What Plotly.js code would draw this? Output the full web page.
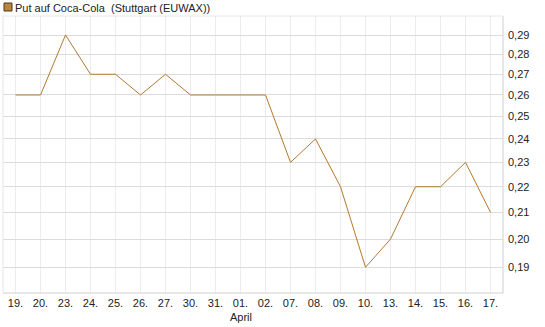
<!DOCTYPE html>
<html>
<head>
<meta charset="utf-8">
<script src="https://cdn.plot.ly/plotly-3.0.1.min.js"></script>
<style>html,body{margin:0;padding:0;background:#fff;}#chart{width:545px;height:327px;}</style>
</head>
<body>
<div id="chart"></div>
<script>
const dateLabels = ["19.","20.","23.","24.","25.","26.","27.","30.","31.","01.","02.","07.","08.","09.","10.","13.","14.","15.","16.","17."];
const prices = [0.26,0.26,0.29,0.27,0.27,0.26,0.27,0.26,0.26,0.26,0.26,0.23,0.24,0.22,0.19,0.20,0.22,0.22,0.23,0.21];
const yTicks = [0.19,0.20,0.21,0.22,0.23,0.24,0.25,0.26,0.27,0.28,0.29];
const monthLabel = "April";
const monthIndex = 9;
const seriesName = "Put auf Coca-Cola\u00a0\u00a0(Stuttgart (EUWAX))";

const xIdx = dateLabels.map((_, i) => i);
const lineColor = "#b27a2f";
const font = {family: "Liberation Sans, Arial, sans-serif", size: 11, color: "#222"};

const trace = {
  x: xIdx, y: prices, type: "scatter", mode: "lines",
  line: {color: lineColor, width: 1}, hoverinfo: "skip", showlegend: false
};

const layout = {
  width: 545, height: 327,
  margin: {l: 3, r: 42, t: 16, b: 34},
  paper_bgcolor: "#fff", plot_bgcolor: "#fff",
  separators: ",.",
  font: font,
  showlegend: false,
  xaxis: {
    range: [-0.5, 19.5], tickvals: xIdx, ticktext: dateLabels,
    showgrid: true, gridcolor: "#ececec", gridwidth: 1,
    zeroline: false, showline: false, ticks: "", ticklabelstandoff: 2,
    tickfont: font, fixedrange: true
  },
  yaxis: {
    type: "log", side: "right",
    range: [-0.74157, -0.52258],
    tickvals: yTicks, tickformat: ".2f",
    showgrid: true, gridcolor: "#dcdcdc", gridwidth: 1,
    zeroline: false, showline: false, ticks: "", ticklabelstandoff: 4,
    tickfont: font, fixedrange: true
  },
  shapes: [
    {type: "line", xref: "paper", yref: "paper", x0: 0, x1: 1, y0: 0, y1: 0, line: {color: "#cfcfcf", width: 1}},
    {type: "line", xref: "paper", yref: "paper", x0: 1, x1: 1, y0: 0, y1: 1, line: {color: "#cfcfcf", width: 1}},
    {type: "line", xref: "paper", yref: "paper", x0: 0, x1: 0, y0: 0, y1: 1, line: {color: "#e4e4e4", width: 1}},
    {type: "line", xref: "paper", yref: "paper", x0: 0, x1: 1, y0: 1, y1: 1, line: {color: "#e8e8e8", width: 1}},
    {type: "rect", xref: "paper", yref: "paper", xsizemode: "pixel", ysizemode: "pixel",
     xanchor: 0, yanchor: 1, x0: 1, x1: 9, y0: 13, y1: 5,
     fillcolor: "#b8863c", line: {color: "#4a3820", width: 1}}
  ],
  annotations: [
    {xref: "paper", yref: "paper", x: 0, y: 1, xshift: 10, yshift: 16, xanchor: "left", yanchor: "top",
     text: seriesName, showarrow: false, font: font},
    {xref: "x", yref: "paper", x: monthIndex, y: 0, yshift: -16, xanchor: "center", yanchor: "top",
     text: monthLabel, showarrow: false, font: font}
  ]
};

Plotly.newPlot("chart", [trace], layout, {displayModeBar: false, staticPlot: true});
</script>
</body>
</html>
